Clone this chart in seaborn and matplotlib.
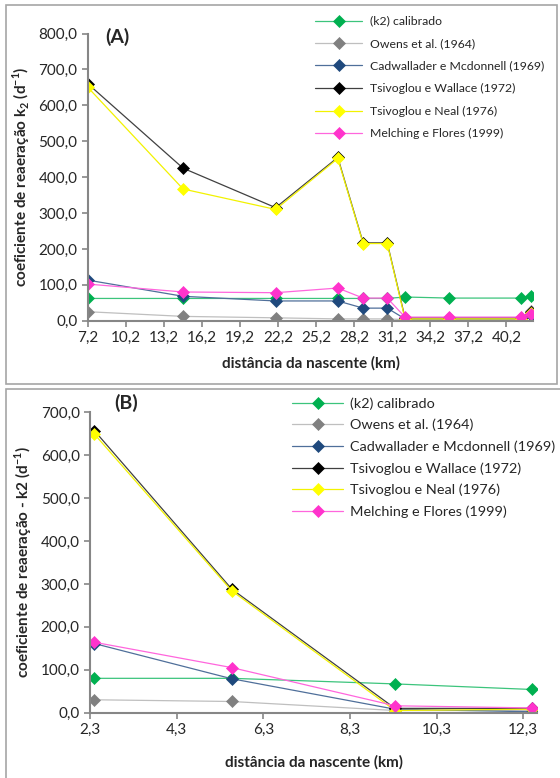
import matplotlib
matplotlib.use('Agg')
import matplotlib.pyplot as plt
import seaborn as sns
from matplotlib.ticker import FuncFormatter, MultipleLocator
from matplotlib.patches import Rectangle

sns.set_style('ticks')
plt.rcParams['font.family'] = ['Lato', 'DejaVu Sans']
plt.rcParams['mathtext.fontset'] = 'custom'
plt.rcParams['mathtext.rm'] = 'Lato'
plt.rcParams['mathtext.bf'] = 'Lato:bold'

# Painel (A) - distância da nascente (km)
dist_a = [7.2, 14.7, 22.0, 26.9, 28.9, 30.8, 32.2, 35.7, 41.35, 42.1]
calibrado_a = [62, 62, 62, 62, 62, 62, 66, 63, 63, 70]
owens_a = [25, 12, 8, 5, 5, 5, 3, 3, 3, 28]
cadwallader_a = [113, 68, 55, 55, 35, 35, 5, 5, 5, 15]
wallace_a = [660, 425, 315, 455, 217, 217, 8, 8, 8, 25]
neal_a = [650, 367, 310, 452, 215, 215, 5, 5, 5, 22]
melching_a = [102, 80, 78, 91, 63, 63, 10, 10, 10, 19]

# Painel (B)
dist_b = [2.4, 5.57, 9.34, 12.5]
calibrado_b = [80, 80, 67, 54]
owens_b = [30, 26, 5, 5]
cadwallader_b = [161, 79, 8, 2]
wallace_b = [657, 288, 10, 10]
neal_b = [649, 284, 5, 8]
melching_b = [164, 105, 16, 11]

labels = ['(k2) calibrado', 'Owens et al. (1964)', 'Cadwallader e Mcdonnell (1969)',
          'Tsivoglou e Wallace (1972)', 'Tsivoglou e Neal (1976)', 'Melching e Flores (1999)']
marker_colors = ['#00B050', '#808080', '#1F497D', '#000000', '#FFFF00', '#FF33CC']
line_colors = ['#3CC47C', '#BFBFBF', '#4F6F9A', '#404040', '#F2F200', '#FF66DD']

fmt = FuncFormatter(lambda v, p: f'{v:.1f}'.replace('.', ','))

fig = plt.figure(figsize=(5.6, 7.78), dpi=100)

# frames round each panel
fig.patches.append(Rectangle((0.011, 0.507), 0.983, 0.486, transform=fig.transFigure,
                             fill=False, edgecolor='#A6A6A6', linewidth=1.2))
fig.patches.append(Rectangle((0.011, -0.01), 1.1, 0.51, transform=fig.transFigure,
                             fill=False, edgecolor='#A6A6A6', linewidth=1.2))

ax_a = fig.add_axes([0.157, 0.5878, 0.795, 0.369])
ax_b = fig.add_axes([0.161, 0.084, 0.798, 0.386])


def draw(ax, x, series):
    handles = []
    for ys, lab, mc, lc in zip(series, labels, marker_colors, line_colors):
        sns.lineplot(x=x, y=ys, ax=ax, color=lc, linewidth=0.9, marker='D',
                     markersize=6.5, markerfacecolor=mc, markeredgecolor=mc,
                     markeredgewidth=0.5, label=lab, legend=False, sort=False)
        handles.append(ax.lines[-1])
    return handles


h_a = draw(ax_a, dist_a, [calibrado_a, owens_a, cadwallader_a, wallace_a, neal_a, melching_a])
h_b = draw(ax_b, dist_b, [calibrado_b, owens_b, cadwallader_b, wallace_b, neal_b, melching_b])

for ax in (ax_a, ax_b):
    sns.despine(ax=ax)
    for s in ('left', 'bottom'):
        ax.spines[s].set_color('#868686')
        ax.spines[s].set_linewidth(1.5)
    ax.tick_params(colors='#868686', labelcolor='#262626', labelsize=11, width=1.2, length=4)
    ax.yaxis.set_major_formatter(fmt)
    ax.xaxis.set_major_formatter(fmt)
    ax.set_facecolor('white')

ax_a.set_xlim(7.2, 42.3)
ax_a.set_xticks([7.2 + 3 * i for i in range(12)])
ax_a.set_ylim(0, 800)
ax_a.yaxis.set_major_locator(MultipleLocator(100))
ax_a.set_xlabel('distância da nascente (km)', fontweight='bold', fontsize=11, labelpad=8)
ax_a.set_ylabel('coeficiente de reaeração k$_\\mathbf{2}$ (d$^\\mathbf{-1}$)',
                fontweight='bold', fontsize=11, labelpad=5)
ax_a.text(0.04, 1.02, '(A)', transform=ax_a.transAxes, fontsize=14, fontweight='bold',
          va='top')

ax_b.set_xlim(2.3, 12.62)
ax_b.set_xticks([2.3 + 2 * i for i in range(6)])
ax_b.set_ylim(0, 700)
ax_b.yaxis.set_major_locator(MultipleLocator(100))
ax_b.set_xlabel('distância da nascente (km)', fontweight='bold', fontsize=11, labelpad=13)
ax_b.set_ylabel('coeficiente de reaeração - k2 (d$^\\mathbf{-1}$)',
                fontweight='bold', fontsize=11, labelpad=5)
ax_b.text(0.055, 1.06, '(B)', transform=ax_b.transAxes, fontsize=14, fontweight='bold',
          va='top')

ax_a.legend(handles=h_a, loc='upper left', bbox_to_anchor=(0.554, 0.986),
            bbox_transform=fig.transFigure, frameon=False, fontsize=8.8,
            handlelength=3.85, handletextpad=0.65, labelspacing=0.94, borderaxespad=0)
ax_b.legend(handles=h_b, loc='upper left', bbox_to_anchor=(0.511, 0.497),
            bbox_transform=fig.transFigure, frameon=False, fontsize=10.4,
            handlelength=3.54, handletextpad=0.5, labelspacing=0.63, borderaxespad=0)

fig.savefig('out.png', dpi=100)
